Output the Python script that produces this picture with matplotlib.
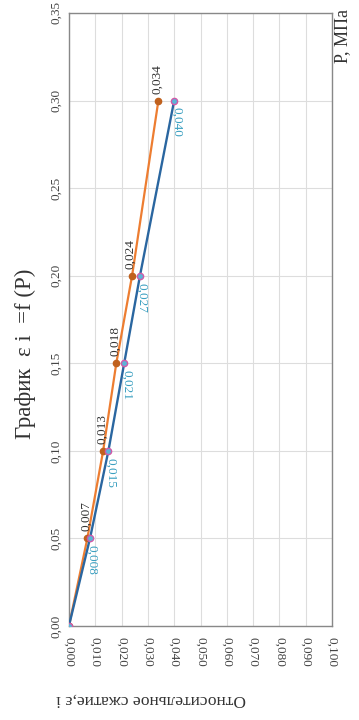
import matplotlib.pyplot as plt
import numpy as np

P = [0.00, 0.05, 0.10, 0.15, 0.20, 0.30]
eps_1 = [0.000, 0.007, 0.013, 0.018, 0.024, 0.034]
eps_2 = [0.000, 0.008, 0.015, 0.021, 0.027, 0.040]
lbl_1 = ["", "0,007", "0,013", "0,018", "0,024", "0,034"]
lbl_2 = ["", "0,008", "0,015", "0,021", "0,027", "0,040"]

plt.rcParams['font.family'] = ['Liberation Serif', 'DejaVu Serif']

fig = plt.figure(figsize=(3.59, 7.2), dpi=100)
ax = fig.add_axes([0.192, 0.1306, 0.733, 0.8514])

ax.plot(eps_2, P, color='#2a66a0', lw=1.7, zorder=3,
        marker='o', ms=4.5, mfc='#5bb4d8', mec='#d05aa8', mew=1.0)
ax.plot(eps_1, P, color='#ed7d31', lw=1.6, zorder=2,
        marker='o', ms=4.5, mfc='#c0611e', mec='#c0611e')

for x, y, t in zip(eps_1, P, lbl_1):
    if t:
        ax.annotate(t, (x, y), xytext=(-1, 5), textcoords='offset points',
                    rotation=90, ha='center', va='bottom', fontsize=9.5,
                    color='#333333')
for x, y, t in zip(eps_2, P, lbl_2):
    if t:
        ax.annotate(t, (x, y), xytext=(1.5, -5), textcoords='offset points',
                    rotation=-90, ha='center', va='top', fontsize=9.5,
                    color='#3a9fc0')

ax.set_xlim(0, 0.1)
ax.set_ylim(0, 0.35)
xt = np.arange(0, 0.1001, 0.01)
yt = np.arange(0, 0.3501, 0.05)
ax.set_xticks(xt)
ax.set_yticks(yt)
ax.set_xticklabels([f"{v:.3f}".replace('.', ',') for v in xt], rotation=-90,
                   fontsize=9.5, color='#444444')
ax.set_yticklabels([f"{v:.2f}".replace('.', ',') for v in yt], rotation=90,
                   va='center', fontsize=9.5, color='#444444')
ax.tick_params(axis='x', length=0, pad=8)
ax.tick_params(axis='y', length=0, pad=5)
ax.grid(True, color='#dddddd', lw=0.8)
ax.set_axisbelow(True)
for s in ax.spines.values():
    s.set_color('#888888')
    s.set_linewidth(1.0)

fig.text(0.07, 0.508, "График  ε i  =f (P)", rotation=90, ha='center',
         va='center', fontsize=16.5, color='#333333')
fig.text(0.955, 0.95, "P, МПа", rotation=90, ha='center', va='center',
         fontsize=13, color='#333333')
fig.text(0.42, 0.028, "Относительное сжатие,ε i", rotation=180, ha='center',
         va='center', fontsize=12.5, color='#333333')

fig.savefig('out.png', dpi=100)
